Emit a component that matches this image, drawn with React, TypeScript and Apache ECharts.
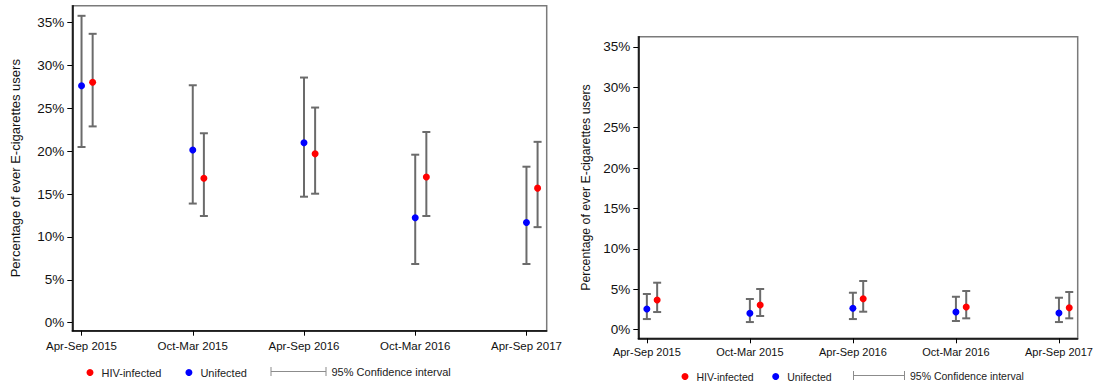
import React, { useEffect, useRef } from "react";
import * as echarts from "echarts";

// Survey periods shown on the x axis (positions 1..5)
const periods = ["Apr-Sep 2015", "Oct-Mar 2015", "Apr-Sep 2016", "Oct-Mar 2016", "Apr-Sep 2017"];
const yTicks = [0, 5, 10, 15, 20, 25, 30, 35];

// Left panel: percentage of ever e-cigarette users with 95% CI
const leftUnifected = [27.65, 20.15, 21.0, 12.25, 11.7];
const leftUnifectedLow = [20.5, 13.9, 14.7, 6.85, 6.85];
const leftUnifectedHigh = [35.8, 27.7, 28.6, 19.6, 18.2];
const leftHiv = [28.05, 16.85, 19.7, 17.0, 15.7];
const leftHivLow = [22.9, 12.45, 15.05, 12.45, 11.15];
const leftHivHigh = [33.7, 22.1, 25.1, 22.25, 21.1];

// Right panel
const rightUnifected = [2.56, 2.03, 2.65, 2.19, 2.07];
const rightUnifectedLow = [1.32, 0.95, 1.32, 1.08, 0.95];
const rightUnifectedHigh = [4.42, 3.8, 4.58, 4.08, 3.96];
const rightHiv = [3.68, 3.06, 3.84, 2.81, 2.72];
const rightHivLow = [2.19, 1.7, 2.23, 1.41, 1.41];
const rightHivHigh = [5.82, 5.04, 6.03, 4.79, 4.67];

const FONT = "'Liberation Sans', Arial, Helvetica, sans-serif";
const RED = "#ff0000";
const BLUE = "#0000ff";
const BAR = "#6b6b6b";
const HIV_SHIFT = 0.1;

function errorBarItem(params: any, api: any) {
  const x = api.value(0);
  const lo = api.coord([x, api.value(1)]);
  const hi = api.coord([x, api.value(2)]);
  const w = 4;
  const style = { stroke: BAR, lineWidth: 2 };
  return {
    type: "group",
    children: [
      { type: "line", shape: { x1: lo[0], y1: lo[1], x2: hi[0], y2: hi[1] }, style },
      { type: "line", shape: { x1: lo[0] - w, y1: lo[1], x2: lo[0] + w, y2: lo[1] }, style },
      { type: "line", shape: { x1: hi[0] - w, y1: hi[1], x2: hi[0] + w, y2: hi[1] }, style },
    ],
  };
}

function panelSeries(
  axisIndex: number,
  unif: number[], unifLo: number[], unifHi: number[],
  hiv: number[], hivLo: number[], hivHi: number[]
) {
  const ciData = [
    ...unif.map((_, i) => [i + 1, unifLo[i], unifHi[i]]),
    ...hiv.map((_, i) => [i + 1 + HIV_SHIFT, hivLo[i], hivHi[i]]),
  ];
  return [
    {
      name: "95% Confidence interval",
      type: "custom",
      xAxisIndex: axisIndex,
      yAxisIndex: axisIndex,
      renderItem: errorBarItem,
      encode: { x: 0, y: [1, 2] },
      data: ciData,
      itemStyle: { color: "#8c8c8c" },
      z: 2,
      silent: true,
    },
    {
      name: "Unifected",
      type: "scatter",
      xAxisIndex: axisIndex,
      yAxisIndex: axisIndex,
      symbol: "circle",
      symbolSize: 7,
      itemStyle: { color: BLUE, opacity: 1 },
      data: unif.map((v, i) => [i + 1, v]),
      z: 3,
    },
    {
      name: "HIV-infected",
      type: "scatter",
      xAxisIndex: axisIndex,
      yAxisIndex: axisIndex,
      symbol: "circle",
      symbolSize: 7,
      itemStyle: { color: RED, opacity: 1 },
      data: hiv.map((v, i) => [i + 1 + HIV_SHIFT, v]),
      z: 3,
    },
  ];
}

function xAxisFor(gridIndex: number, fontSize: number, margin: number) {
  return {
    type: "value",
    gridIndex,
    min: 0.917,
    max: 5.182,
    axisLine: { show: true, onZero: false, lineStyle: { color: "#000", width: 1.5 } },
    axisTick: { show: true, length: 5, customValues: [1, 2, 3, 4, 5], lineStyle: { color: "#000", width: 1 } },
    axisLabel: {
      customValues: [1, 2, 3, 4, 5],
      formatter: (v: number) => periods[Math.round(v) - 1] ?? "",
      fontSize,
      fontFamily: FONT,
      color: "#111",
      margin,
    },
    splitLine: { show: false },
  };
}

function yAxisFor(gridIndex: number, min: number, max: number, labelSize: number, nameSize: number, nameGap: number) {
  return {
    type: "value",
    gridIndex,
    min,
    max,
    name: "Percentage of ever E-cigarettes users",
    nameLocation: "middle",
    nameGap,
    nameTextStyle: { fontSize: nameSize, fontFamily: FONT, color: "#111" },
    axisLine: { show: true, onZero: false, lineStyle: { color: "#000", width: 1.5 } },
    axisTick: { show: true, length: 5, customValues: yTicks, lineStyle: { color: "#000", width: 1 } },
    axisLabel: {
      customValues: yTicks,
      formatter: (v: number) => `${Math.round(v)}%`,
      fontSize: labelSize,
      fontFamily: FONT,
      color: "#111",
      margin: 8,
    },
    splitLine: { show: false },
  };
}

function legendsFor(left1: number, top: number, gap: number, left2: number, fontSize: number, ciWidth: number) {
  const textStyle = { fontSize, fontFamily: FONT, color: "#222" };
  const ciIcon = `path://M0,4H${ciWidth}V5H0Z M0,0H1V9H0Z M${ciWidth - 1},0H${ciWidth}V9H${ciWidth - 1}Z`;
  return [
    {
      left: left1,
      top,
      padding: 0,
      orient: "horizontal",
      selectedMode: false,
      itemWidth: 13,
      itemHeight: 7,
      itemGap: gap,
      textStyle,
      data: [
        { name: "HIV-infected", icon: "circle" },
        { name: "Unifected", icon: "circle" },
      ],
    },
    {
      left: left2,
      top: top - 1,
      padding: 0,
      selectedMode: false,
      itemWidth: ciWidth,
      itemHeight: 9,
      textStyle,
      data: [{ name: "95% Confidence interval", icon: ciIcon, itemStyle: { color: "#8c8c8c" } }],
    },
  ];
}

export default function App() {
  const ref = useRef<HTMLDivElement>(null);

  useEffect(() => {
    if (!ref.current) return;
    const chart = echarts.init(ref.current, null, { renderer: "svg" });
    const gridStyle = { show: true, borderColor: "#7a7a7a", borderWidth: 1.5, backgroundColor: "transparent" };
    chart.setOption({
      animation: false,
      backgroundColor: "#ffffff",
      textStyle: { fontFamily: FONT },
      grid: [
        { left: 72.3, top: 5.7, width: 474.4, height: 325, ...gridStyle },
        { left: 638.3, top: 36.7, width: 439.4, height: 301.6, ...gridStyle },
      ],
      xAxis: [xAxisFor(0, 11.5, 9), xAxisFor(1, 11, 8)],
      yAxis: [
        yAxisFor(0, -0.93, 36.98, 13.5, 13, 50),
        yAxisFor(1, -1.06, 36.26, 13.5, 12.3, 46),
      ],
      legend: [
        ...legendsFor(86.5, 367, 24, 270.5, 11, 56),
        ...legendsFor(681.5, 371, 18.5, 853, 10.5, 52),
      ],
      series: [
        ...panelSeries(0, leftUnifected, leftUnifectedLow, leftUnifectedHigh, leftHiv, leftHivLow, leftHivHigh),
        ...panelSeries(1, rightUnifected, rightUnifectedLow, rightUnifectedHigh, rightHiv, rightHivLow, rightHivHigh),
      ],
    });
    return () => chart.dispose();
  }, []);

  return (
    <div
      ref={ref}
      style={{ position: "fixed", left: 0, top: 0, width: 1097, height: 387, background: "#fff" }}
    />
  );
}
